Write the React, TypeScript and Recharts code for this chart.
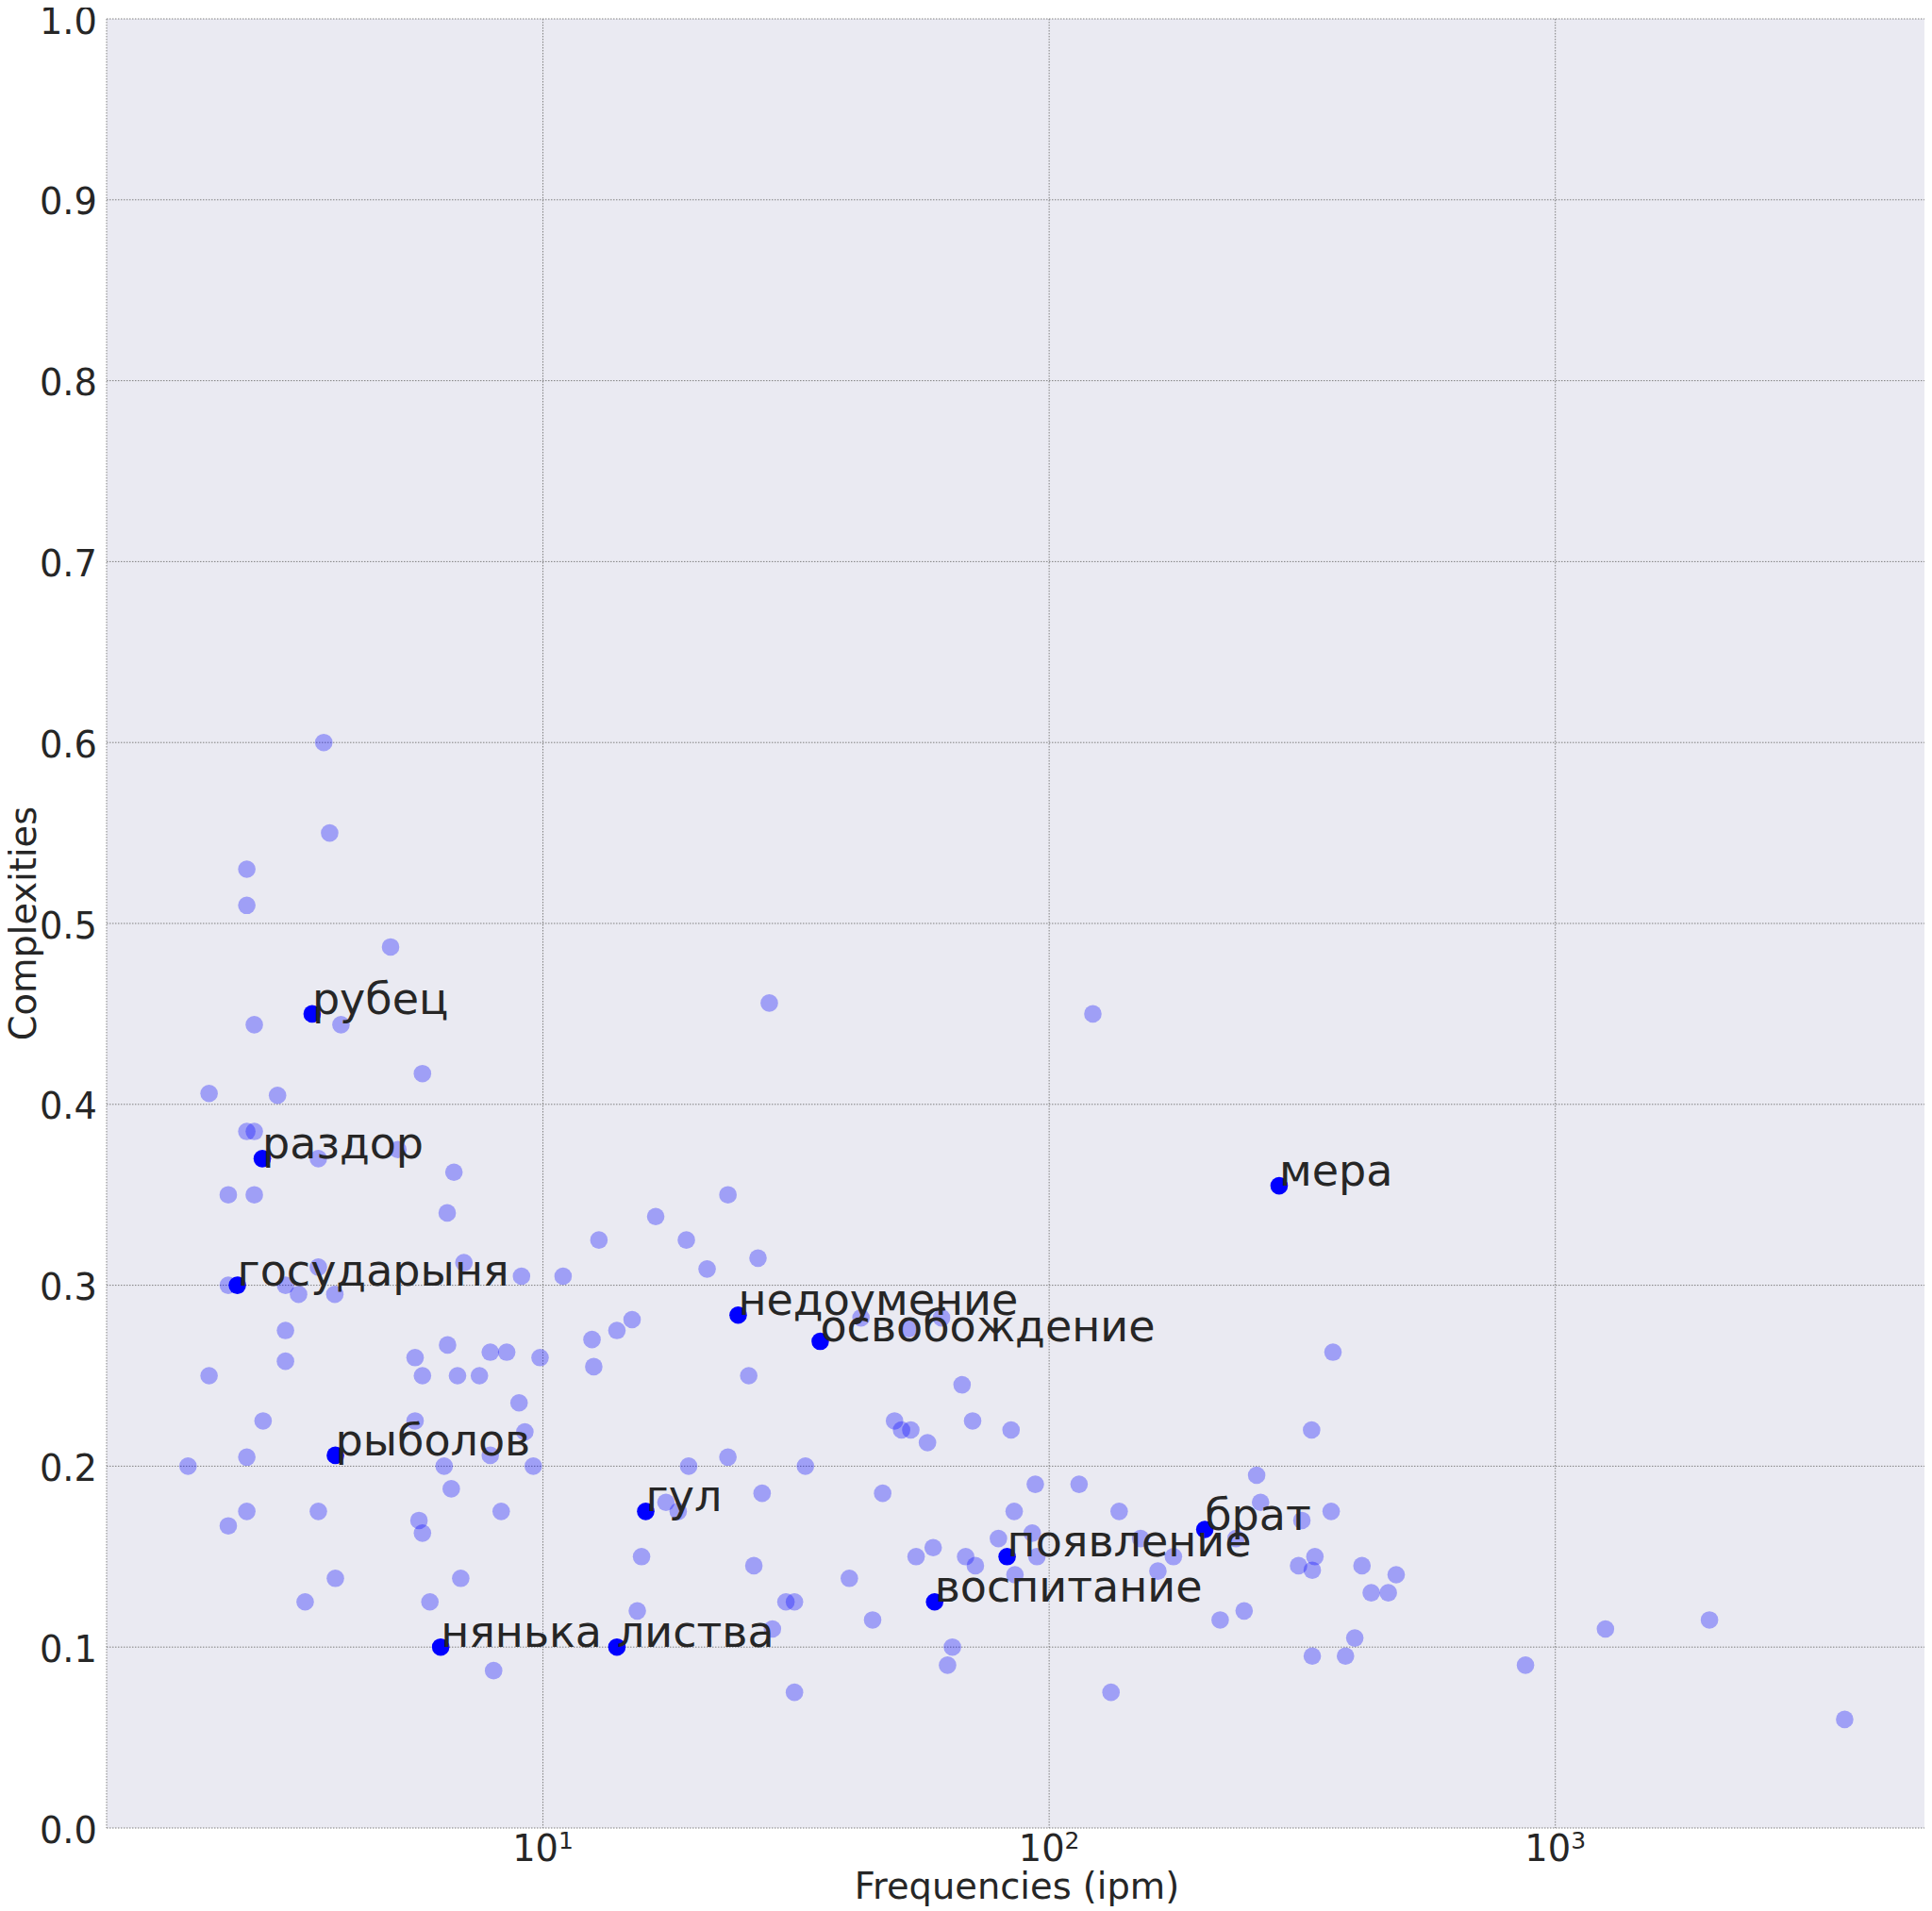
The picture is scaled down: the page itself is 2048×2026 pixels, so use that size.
import React from 'react';
import { ScatterChart, Scatter, XAxis, YAxis, CartesianGrid, Label } from 'recharts';

const lightFrequencies = [
  3.69, 3.79, 2.6, 2.6, 5.0, 2.69, 3.99, 5.78, 2.19, 2.99,
  2.6, 2.69, 3.6, 5.17, 6.67, 2.39, 2.69, 6.47, 16.7, 12.9,
  6.98, 3.6, 9.07, 10.96, 2.39, 3.1, 3.29, 3.88, 15.0,
  3.1, 3.1, 2.19, 5.59, 5.78, 6.48, 6.78, 7.49, 7.87, 8.48,
  9.87, 12.5, 12.6, 14.0, 8.97, 9.21, 2.8, 5.59, 2.6, 1.99,
  6.38, 7.87, 9.57, 6.59, 2.6, 3.6, 8.27, 2.39, 5.69, 5.78,
  15.66, 3.89, 6.88, 3.39, 5.98, 15.36, 7.99,
  21.1, 26.6, 42.5, 61.3, 52.9, 25.5, 67.3, 49.5, 51.1, 53.3,
  70.6, 84.1, 57.5, 330, 19.4, 23.2, 33.0, 93.9, 114.6, 257,
  27.1, 46.9, 17.5, 18.5, 85.3, 137.5, 261.6, 315.7, 92.6, 79.4,
  151.6, 234, 54.6, 59.0, 68.4, 71.5, 94.6, 176, 26.1, 85.6,
  164, 311, 335, 331, 40.3, 30.2, 31.4, 217.7, 242.8, 44.8,
  28.4, 64.4, 63.0, 331, 31.4, 132.5,
  363.7, 360.7, 415, 484.8, 432.8, 467.7, 401.6, 385, 873, 1256,
  2016, 3729,
  28.0, 122, 23.2, 19.2,
];

const lightComplexities = [
  0.6, 0.55, 0.53, 0.51, 0.487, 0.444, 0.444, 0.417, 0.406, 0.405,
  0.385, 0.385, 0.37, 0.375, 0.3625, 0.35, 0.35, 0.34, 0.338, 0.325,
  0.3125, 0.31, 0.305, 0.305, 0.3, 0.3, 0.295, 0.295, 0.281,
  0.275, 0.258, 0.25, 0.26, 0.25, 0.267, 0.25, 0.25, 0.263, 0.263,
  0.26, 0.27, 0.255, 0.275, 0.235, 0.219, 0.225, 0.225, 0.205, 0.2,
  0.2, 0.206, 0.2, 0.1875, 0.175, 0.175, 0.175, 0.167, 0.17, 0.163,
  0.15, 0.138, 0.138, 0.125, 0.125, 0.12, 0.087,
  0.309, 0.315, 0.282, 0.282, 0.276, 0.25, 0.245, 0.225, 0.22, 0.22,
  0.225, 0.22, 0.213, 0.22, 0.2, 0.205, 0.2, 0.19, 0.19, 0.195,
  0.185, 0.185, 0.18, 0.175, 0.175, 0.175, 0.18, 0.17, 0.163, 0.16,
  0.16, 0.16, 0.15, 0.155, 0.15, 0.145, 0.15, 0.15, 0.145, 0.14,
  0.142, 0.145, 0.15, 0.1425, 0.138, 0.125, 0.125, 0.115, 0.12, 0.115,
  0.11, 0.1, 0.09, 0.095, 0.075, 0.075,
  0.263, 0.175, 0.145, 0.14, 0.13, 0.13, 0.105, 0.095, 0.09, 0.11,
  0.115, 0.06,
  0.456, 0.45, 0.35, 0.325,
];

const highlightWords = [
  'рубец', 'раздор', 'государыня', 'рыболов', 'нянька', 'листва', 'гул',
  'недоумение', 'освобождение', 'мера', 'брат', 'появление', 'воспитание',
];
const highlightFrequencies = [3.5, 2.79, 2.49, 3.89, 6.28, 14.0, 15.96, 24.3, 35.3, 284.7, 203, 82.6, 59.4];
const highlightComplexities = [0.45, 0.37, 0.3, 0.206, 0.1, 0.1, 0.175, 0.2835, 0.269, 0.355, 0.165, 0.15, 0.125];

const xTicks = [10, 100, 1000];
const xTickExponents = ['1', '2', '3'];
const yTicks = [0, 0.1, 0.2, 0.3, 0.4, 0.5, 0.6, 0.7, 0.8, 0.9, 1.0];
const yTickLabels = ['0.0', '0.1', '0.2', '0.3', '0.4', '0.5', '0.6', '0.7', '0.8', '0.9', '1.0'];

const lightData = lightFrequencies.map((x, i) => ({ x, y: lightComplexities[i] }));
const highlightData = highlightWords.map((word, i) => ({
  x: highlightFrequencies[i],
  y: highlightComplexities[i],
  word,
}));

const FONT = '"DejaVu Sans", sans-serif';
const TEXT = '#262626';

const LightDot = (props: any) => (
  <circle cx={props.cx} cy={props.cy} r={9.3} fill="#0000ff" fillOpacity={0.32} />
);
const DarkDot = (props: any) => <circle cx={props.cx} cy={props.cy} r={9.3} fill="#0000ff" />;
const WordLabel = (props: any) => {
  const word = props.payload?.word ?? props.word;
  return (
    <text x={props.cx} y={props.cy} fontSize={46} fill={TEXT} fontFamily={FONT}>
      {word}
    </text>
  );
};

const XTick = (props: any) => {
  const { x, y, payload } = props;
  const idx = xTicks.indexOf(payload.value);
  return (
    <text x={x} y={y + 35} textAnchor="middle" fontSize={38.4} fill={TEXT} fontFamily={FONT}>
      <tspan>10</tspan>
      <tspan dy={-13} fontSize={25}>
        {xTickExponents[idx]}
      </tspan>
    </text>
  );
};

const YTick = (props: any) => {
  const { x, y, payload } = props;
  const idx = yTicks.indexOf(payload.value);
  return (
    <text x={x} y={y} dy={15.5} textAnchor="end" fontSize={38.4} fill={TEXT} fontFamily={FONT}>
      {idx >= 0 ? yTickLabels[idx] : payload.value}
    </text>
  );
};

export default function App() {
  return (
    <div style={{ width: 2040, height: 2018 }}>
      <ScatterChart width={2040} height={2018} margin={{ top: 12, right: 5, bottom: 0, left: 0 }}>
        <CartesianGrid
          fill="#EAEAF2"
          stroke="#808080"
          strokeWidth={1}
          strokeDasharray="1.5 1.5"
        />
        <XAxis
          dataKey="x"
          type="number"
          scale="log"
          domain={[1.374, 5430]}
          allowDataOverflow
          ticks={xTicks}
          interval={0}
          tick={<XTick />}
          tickLine={false}
          axisLine={false}
          tickSize={0}
          tickMargin={0}
          height={88}
        >
          <Label
            content={(p: any) => {
              const vb = p.viewBox || {};
              return (
                <text
                  x={vb.x + vb.width / 2}
                  y={vb.y + 75}
                  textAnchor="middle"
                  fontSize={38.4}
                  fill={TEXT}
                  fontFamily={FONT}
                >
                  Frequencies (ipm)
                </text>
              );
            }}
          />
        </XAxis>
        <YAxis
          dataKey="y"
          type="number"
          domain={[0, 1]}
          ticks={yTicks}
          interval={0}
          tick={<YTick />}
          tickLine={false}
          axisLine={false}
          tickSize={0}
          tickMargin={10}
          width={105}
        >
          <Label
            content={(p: any) => {
              const vb = p.viewBox || {};
              const cx = vb.x + 30;
              const cy = vb.y + vb.height / 2;
              return (
                <text
                  x={cx}
                  y={cy}
                  transform={`rotate(-90, ${cx}, ${cy})`}
                  textAnchor="middle"
                  fontSize={38.4}
                  fill={TEXT}
                  fontFamily={FONT}
                >
                  Complexities
                </text>
              );
            }}
          />
        </YAxis>
        <Scatter data={lightData} shape={<LightDot />} isAnimationActive={false} />
        <Scatter data={highlightData} shape={<DarkDot />} isAnimationActive={false} />
        <Scatter data={highlightData} shape={<WordLabel />} isAnimationActive={false} />
      </ScatterChart>
    </div>
  );
}
